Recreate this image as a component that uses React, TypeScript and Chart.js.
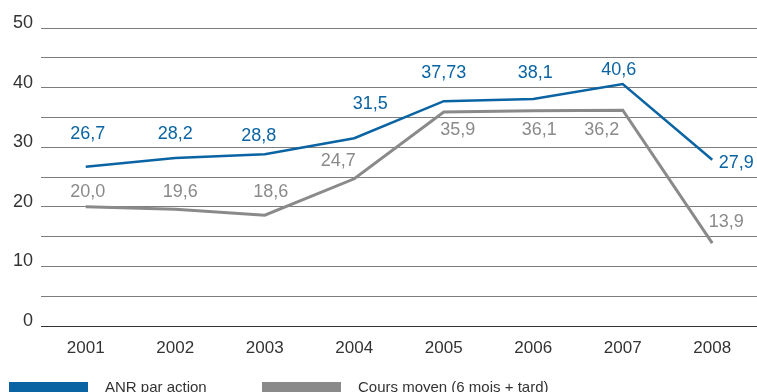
import { useEffect, useRef } from 'react';
import { Chart, registerables } from 'chart.js';

Chart.register(...registerables);

const years = ['2001', '2002', '2003', '2004', '2005', '2006', '2007', '2008'];
const anrValues = [26.7, 28.2, 28.8, 31.5, 37.73, 38.1, 40.6, 27.9];
const anrLabels = ['26,7', '28,2', '28,8', '31,5', '37,73', '38,1', '40,6', '27,9'];
const coursValues = [20.0, 19.6, 18.6, 24.7, 35.9, 36.1, 36.2, 13.9];
const coursLabels = ['20,0', '19,6', '18,6', '24,7', '35,9', '36,1', '36,2', '13,9'];
const seriesNames = ['ANR par action', 'Cours moyen (6 mois + tard)'];
const yMin = 0;
const yMax = 50;
const yGridStep = 5;
const yLabelStep = 10;

// label placement (pixel offsets from each point), styling only
const anrLabelOffsets = [[2, -33], [0, -24], [-6, -18], [16, -34], [0, -28], [2, -26], [-4, -14], [24, 3]];
const coursLabelOffsets = [[2, -15], [5, -17], [6, -23], [-16, -18], [14, 18], [6, 19], [-21, 20], [14, -21]];

const BLUE = '#0a64a3';
const GRAY = '#8a8a8a';
const FONT = '"Liberation Sans", Arial, Helvetica, sans-serif';

const labelPlugin = {
  id: 'valueLabels',
  afterDatasetsDraw(chart: any) {
    const ctx = chart.ctx;
    const sets = [
      { labels: anrLabels, offsets: anrLabelOffsets, color: BLUE },
      { labels: coursLabels, offsets: coursLabelOffsets, color: GRAY },
    ];
    ctx.save();
    ctx.font = `18px ${FONT}`;
    ctx.textAlign = 'center';
    ctx.textBaseline = 'middle';
    sets.forEach((s, di) => {
      const meta = chart.getDatasetMeta(di);
      meta.data.forEach((pt: any, i: number) => {
        ctx.fillStyle = s.color;
        ctx.fillText(s.labels[i], pt.x + s.offsets[i][0], pt.y + s.offsets[i][1]);
      });
    });
    ctx.restore();
  },
};

const legendPlugin = {
  id: 'customLegend',
  afterDraw(chart: any) {
    const ctx = chart.ctx;
    const items = [
      { x: 9, color: BLUE, text: chart.data.datasets[0].label },
      { x: 262, color: GRAY, text: chart.data.datasets[1].label },
    ];
    ctx.save();
    ctx.font = `15px ${FONT}`;
    ctx.textAlign = 'left';
    ctx.textBaseline = 'alphabetic';
    items.forEach((it) => {
      ctx.fillStyle = it.color;
      ctx.fillRect(it.x, 382, 79, 12);
      ctx.fillStyle = '#333333';
      ctx.fillText(it.text, it.x + 96, 392);
    });
    ctx.restore();
  },
};

export default function App() {
  const ref = useRef<HTMLCanvasElement | null>(null);

  useEffect(() => {
    document.body.style.margin = '0';
    const canvas = ref.current;
    if (!canvas) return;
    const chart = new Chart(canvas, {
      type: 'line',
      data: {
        labels: years,
        datasets: [
          {
            label: seriesNames[0],
            data: anrValues,
            borderColor: BLUE,
            backgroundColor: BLUE,
            borderWidth: 2.5,
            pointRadius: 0,
            tension: 0,
          },
          {
            label: seriesNames[1],
            data: coursValues,
            borderColor: GRAY,
            backgroundColor: GRAY,
            borderWidth: 3,
            pointRadius: 0,
            tension: 0,
          },
        ],
      },
      options: {
        responsive: false,
        animation: false,
        layout: { padding: { top: 28, right: 0, bottom: 26, left: 0 } },
        plugins: {
          legend: { display: false },
          tooltip: { enabled: false },
        },
        scales: {
          x: {
            offset: true,
            grid: { display: false, drawTicks: false },
            border: { display: false },
            ticks: {
              color: '#333333',
              font: { family: FONT, size: 17 },
              padding: 12,
              maxRotation: 0,
            },
            afterFit: (scale: any) => {
              scale.height = 40;
            },
          },
          y: {
            min: yMin,
            max: yMax,
            grid: {
              drawTicks: false,
              lineWidth: 1,
              color: (c: any) => (c.tick && c.tick.value === 0 ? '#333333' : '#7d7d7d'),
            },
            border: { display: false },
            ticks: {
              stepSize: yGridStep,
              color: '#333333',
              font: { family: FONT, size: 18 },
              padding: 8,
              labelOffset: -5,
              callback: (v: any) => (Number(v) % yLabelStep === 0 ? String(v) : ''),
            },
            afterFit: (scale: any) => {
              scale.width = 41;
            },
          },
        },
      },
      plugins: [labelPlugin, legendPlugin],
    });
    return () => chart.destroy();
  }, []);

  return (
    <div style={{ position: 'absolute', left: 0, top: 0, width: 757, height: 392, background: '#fff' }}>
      <canvas ref={ref} width={757} height={392} />
    </div>
  );
}
